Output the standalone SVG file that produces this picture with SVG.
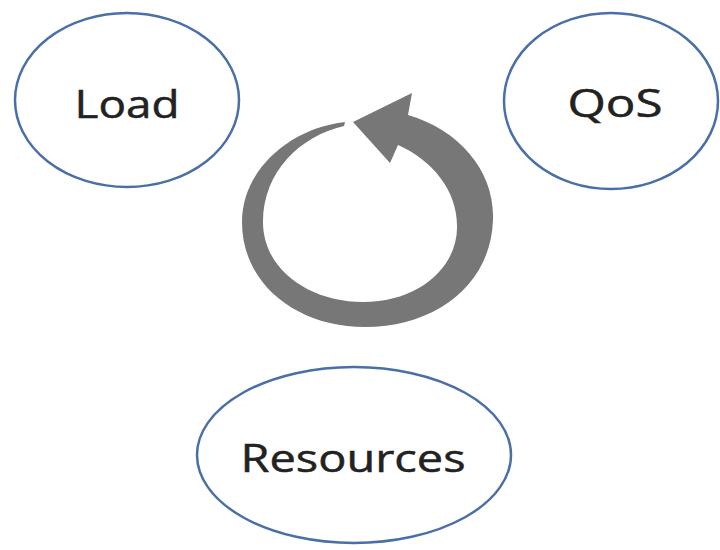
<svg xmlns="http://www.w3.org/2000/svg" width="720" height="550" viewBox="0 0 720 550">
  <style>
    .node ellipse { fill: #ffffff; stroke: #4a6fa8; stroke-width: 2.5; }
    .node text { font-family: "Open Sans", "DejaVu Sans", sans-serif; font-size: 38px; fill: #222222; stroke: #222222; stroke-width: 0.5; text-anchor: middle; }
    .cycle { fill: #777777; }
  </style>
  <rect width="720" height="550" fill="#ffffff"/>

  <g id="connectors">
    <!-- tapered counter-clockwise cycle arrow -->
    <path class="cycle" d="M 408,115 C 460,130 495,172 493,220 C 491,285 435,327 365,327 C 298,327 242,285 242,222 C 242,170 290,128 345,122 L 344,126 C 300,136 263,172 263,222 C 263,270 310,302 363,302 C 420,302 458,266 457,226 C 457,190 432,160 398,145 L 390,163 L 353,122 L 412,93 Z"/>
  </g>

  <g id="load" class="node">
    <ellipse cx="127" cy="100" rx="112" ry="87"/>
    <text x="127" y="118" textLength="105" lengthAdjust="spacingAndGlyphs">Load</text>
  </g>

  <g id="qos" class="node">
    <ellipse cx="611" cy="101" rx="107" ry="88"/>
    <text x="615" y="117" textLength="95" lengthAdjust="spacingAndGlyphs">QoS</text>
  </g>

  <g id="resources" class="node">
    <ellipse cx="354" cy="455" rx="157" ry="88"/>
    <text x="353" y="472" textLength="225" lengthAdjust="spacingAndGlyphs">Resources</text>
  </g>
</svg>
